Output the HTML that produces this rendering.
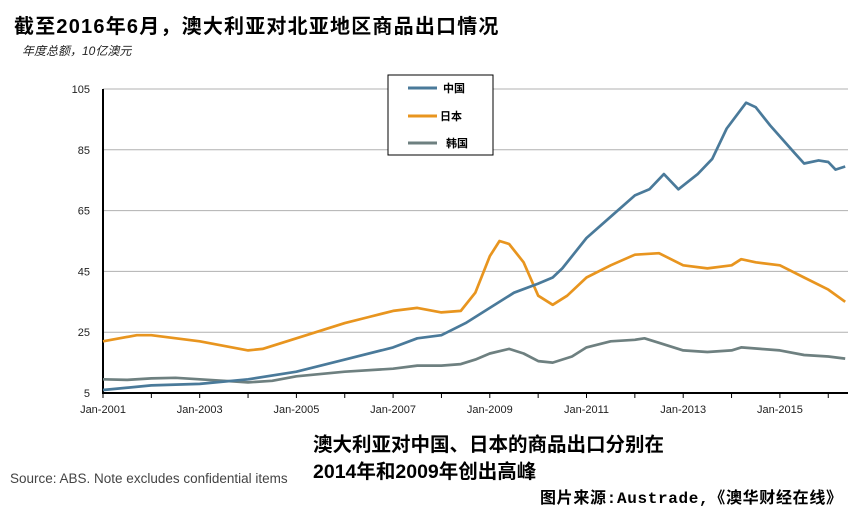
<!DOCTYPE html>
<html><head><meta charset="utf-8"><style>
body{margin:0;width:864px;height:514px;background:#fff;overflow:hidden;font-family:"Liberation Sans","Noto Sans CJK SC",sans-serif}
</style></head><body>
<svg id="s" width="864" height="514" xmlns="http://www.w3.org/2000/svg" style="position:absolute;left:0;top:0">
<text x="14" y="33" font-size="20" font-weight="bold" letter-spacing="1.2" font-family="Liberation Sans,Noto Sans CJK SC,sans-serif" fill="#000">截至2016年6月，澳大利亚对北亚地区商品出口情况</text>
<text x="22" y="55" font-size="12" font-style="italic" fill="#222" font-family="Liberation Sans,Noto Sans CJK SC,sans-serif">年度总额，10亿澳元</text>
<g id="grid"></g>
<g id="lines"></g>
<rect x="388" y="75" width="105" height="80" fill="#fff" stroke="#000" stroke-width="1"/>
<line x1="408" y1="88" x2="437" y2="88" stroke="#4a7a9a" stroke-width="3"/>
<text x="443" y="92" font-size="11" font-weight="bold">中国</text>
<line x1="408" y1="116" x2="437" y2="116" stroke="#e8951f" stroke-width="3"/>
<text x="440" y="120" font-size="11" font-weight="bold">日本</text>
<line x1="408" y1="143" x2="437" y2="143" stroke="#6e8080" stroke-width="3"/>
<text x="446" y="147" font-size="11" font-weight="bold">韩国</text>
<text x="10" y="483" font-size="13.5" fill="#444">Source: ABS. Note excludes confidential items</text>
<text x="313" y="451" font-size="19.5" font-weight="bold" font-family="Liberation Sans,Noto Sans CJK SC,sans-serif">澳大利亚对中国、日本的商品出口分别在</text>
<text x="313" y="478" font-size="19.5" font-weight="bold" font-family="Liberation Sans,Noto Sans CJK SC,sans-serif">2014年和2009年创出高峰</text>
<text x="540" y="503" font-size="16" font-weight="bold" textLength="302" font-family="Liberation Mono,Noto Sans CJK SC,monospace">图片来源:Austrade,《澳华财经在线》</text>
</svg>
<script>
var X=function(t){return 103+(t-2001)*48.35},Y=function(v){return 393-(v-5)*3.04};
var g='';
[105,85,65,45,25].forEach(function(v){g+='<line x1="103" x2="848" y1="'+Y(v)+'" y2="'+Y(v)+'" stroke="#b0b0b0" stroke-width="1"/>'});
[105,85,65,45,25,5].forEach(function(v){g+='<text x="90" y="'+(Y(v)+4)+'" font-size="11" text-anchor="end" fill="#222">'+v+'</text>'});
g+='<line x1="103" x2="848" y1="393" y2="393" stroke="#000" stroke-width="2"/><line x1="103" x2="103" y1="89" y2="394" stroke="#000" stroke-width="2"/>';
for(var y=2001;y<=2016;y++){g+='<line x1="'+X(y)+'" x2="'+X(y)+'" y1="393" y2="398" stroke="#000"/>';}
for(var y=2001;y<=2015;y+=2){g+='<text x="'+X(y)+'" y="413" font-size="11" text-anchor="middle" fill="#222">Jan-'+y+'</text>';}
document.getElementById('grid').innerHTML=g;
var D={
"#6e8080":[[2001,9.5],[2001.5,9.3],[2002,9.8],[2002.5,10],[2003,9.5],[2003.5,9],[2004,8.5],[2004.5,9],[2005,10.5],[2006,12],[2007,13],[2007.5,14],[2008,14],[2008.4,14.5],[2008.7,16],[2009,18],[2009.4,19.5],[2009.7,18],[2010,15.5],[2010.3,15],[2010.7,17],[2011,20],[2011.5,22],[2012,22.5],[2012.2,23],[2012.5,21.5],[2013,19],[2013.5,18.5],[2014,19],[2014.2,20],[2014.6,19.5],[2015,19],[2015.5,17.5],[2016,17],[2016.35,16.3]],
"#e8951f":[[2001,22],[2001.7,24],[2002,24],[2003,22],[2004,19],[2004.3,19.5],[2005,23],[2006,28],[2006.5,30],[2007,32],[2007.5,33],[2008,31.5],[2008.4,32],[2008.7,38],[2009,50],[2009.2,55],[2009.4,54],[2009.7,48],[2010,37],[2010.3,34],[2010.6,37],[2011,43],[2011.5,47],[2012,50.5],[2012.5,51],[2013,47],[2013.5,46],[2014,47],[2014.2,49],[2014.5,48],[2015,47],[2015.5,43],[2016,39],[2016.35,35]],
"#4a7a9a":[[2001,6],[2002,7.5],[2003,8],[2004,9.5],[2005,12],[2006,16],[2007,20],[2007.5,23],[2008,24],[2008.5,28],[2009,33],[2009.5,38],[2010,41],[2010.3,43],[2010.5,46],[2011,56],[2011.5,63],[2012,70],[2012.3,72],[2012.6,77],[2012.9,72],[2013.3,77],[2013.6,82],[2013.9,92],[2014.3,100.5],[2014.5,99],[2014.8,93],[2015.3,84],[2015.5,80.5],[2015.8,81.5],[2016,81],[2016.15,78.5],[2016.35,79.5]]};
var l='';for(var c in D){l+='<polyline fill="none" stroke="'+c+'" stroke-width="2.7" stroke-linejoin="round" points="'+D[c].map(function(p){return X(p[0]).toFixed(1)+','+Y(p[1]).toFixed(1)}).join(' ')+'"/>';}
document.getElementById('lines').innerHTML=l;
</script>
</body></html>
